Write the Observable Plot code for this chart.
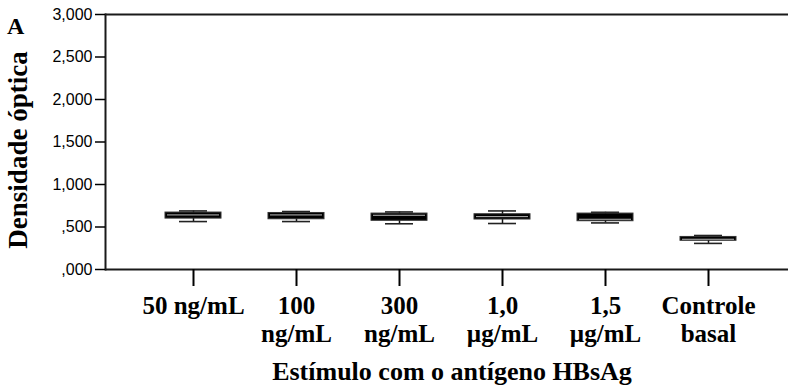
<!DOCTYPE html>
<html>
<head>
<meta charset="utf-8">
<script src="https://cdn.jsdelivr.net/npm/d3@7"></script>
<script src="https://cdn.jsdelivr.net/npm/@observablehq/plot@0.6"></script>
<style>
  html, body { margin: 0; padding: 0; background: #fff; }
  #chart { width: 788px; height: 386px; overflow: hidden; }
</style>
</head>
<body>
<div id="chart"></div>
<script>
// ---- data ----
const categories = ["50 ng/mL", "100 ng/mL", "300 ng/mL", "1,0 µg/mL", "1,5 µg/mL", "Controle basal"];
const xTickLabels = ["50 ng/mL", "100\nng/mL", "300\nng/mL", "1,0\nµg/mL", "1,5\nµg/mL", "Controle\nbasal"];
const whiskerLow  = [0.564, 0.564, 0.538, 0.541, 0.548, 0.307];
const q1          = [0.599, 0.591, 0.573, 0.588, 0.568, 0.338];
const median      = [0.642, 0.642, 0.638, 0.622, 0.591, 0.356];
const q3          = [0.670, 0.665, 0.658, 0.650, 0.658, 0.383];
const whiskerHigh = [0.689, 0.682, 0.677, 0.689, 0.673, 0.400];
const yTicks = [0, 0.5, 1, 1.5, 2, 2.5, 3];
const yTickLabels = [",000", ",500", "1,000", "1,500", "2,000", "2,500", "3,000"];
const yLabel = "Densidade óptica";
const xLabel = "Estímulo com o antígeno HBsAg";
const panelLetter = "A";

const rows = categories.map((c, i) => ({
  cat: c, lo: whiskerLow[i], q1: q1[i], med: median[i], q3: q3[i], hi: whiskerHigh[i]
}));

const serif = "'Liberation Serif', 'Times New Roman', serif";
const sans = "'Liberation Sans', Arial, sans-serif";

const chart = Plot.plot({
  width: 788,
  height: 386,
  marginLeft: 105,
  marginRight: 0,
  marginTop: 14,
  marginBottom: 117,
  style: { background: "#fff", color: "#000", fontFamily: sans, overflow: "visible" },
  x: { type: "band", domain: categories, range: [139.25, 760.5], paddingInner: 0.46, paddingOuter: 0.23 },
  y: { domain: [0, 3] },
  marks: [
    Plot.ruleY([0, 3], { stroke: "#1a1a1a", strokeWidth: 2 }),
    Plot.frame({ anchor: "left", stroke: "#1a1a1a", strokeWidth: 2 }),
    Plot.axisY(yTicks, {
      tickSize: 10, tickPadding: 3, strokeWidth: 1.5,
      tickFormat: d => yTickLabels[yTicks.indexOf(d)],
      fontSize: 16, fontFamily: sans, letterSpacing: "1px", label: null
    }),
    Plot.axisX({
      tickSize: 17, tickPadding: 8, strokeWidth: 2,
      tickFormat: d => xTickLabels[categories.indexOf(d)],
      fontSize: 25, fontFamily: serif, fontWeight: "bold", lineHeight: 1.1, label: null
    }),
    Plot.ruleX(rows, { x: "cat", y1: "lo", y2: "hi", stroke: "#111", strokeWidth: 1.5 }),
    Plot.tickY(rows, { x: "cat", y: "lo", stroke: "#222", strokeWidth: 1.6, insetLeft: 14, insetRight: 14 }),
    Plot.tickY(rows, { x: "cat", y: "hi", stroke: "#222", strokeWidth: 1.6, insetLeft: 14, insetRight: 14 }),
    Plot.barY(rows, { x: "cat", y1: "q1", y2: "q3", fill: "#000", stroke: "#333", strokeWidth: 1 }),
    Plot.tickY(rows, { x: "cat", y: "med", stroke: "#bbb", strokeWidth: 1, insetLeft: 2, insetRight: 2 })
  ]
});

const svg = d3.select(chart);
// make sure the category labels use the bold serif face
svg.selectAll('g[aria-label="x-axis tick label"], g[aria-label="x-axis tick label"] text')
  .style("font-family", serif).style("font-weight", "bold").style("font-size", "25px");

svg.append("text")
  .attr("x", 7).attr("y", 34)
  .attr("text-anchor", "start")
  .style("font-family", serif).style("font-weight", "bold").style("font-size", "24px")
  .attr("fill", "#000")
  .text(panelLetter);
svg.append("text")
  .attr("transform", "translate(27,150) rotate(-90)")
  .attr("text-anchor", "middle")
  .style("font-family", serif).style("font-weight", "bold").style("font-size", "27px")
  .attr("fill", "#000")
  .text(yLabel);
svg.append("text")
  .attr("x", 452).attr("y", 380)
  .attr("text-anchor", "middle")
  .style("font-family", serif).style("font-weight", "bold").style("font-size", "26px")
  .attr("fill", "#000")
  .text(xLabel);

document.getElementById("chart").appendChild(chart);
</script>
</body>
</html>
